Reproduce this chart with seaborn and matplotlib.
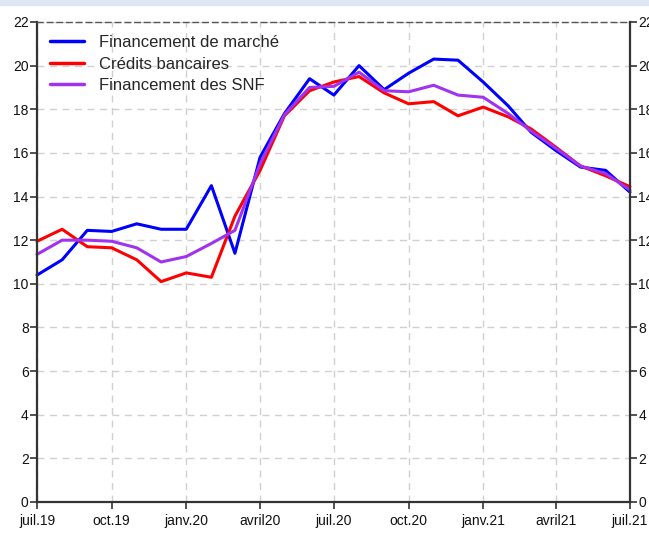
import numpy as np
import pandas as pd
import matplotlib
matplotlib.use('Agg')
import matplotlib.pyplot as plt
import seaborn as sns

# monthly growth rates, juil.19 -> juil.21
months = pd.date_range('2019-07-01', periods=25, freq='MS')

financement_marche = [10.4, 11.1, 12.45, 12.4, 12.75, 12.5, 12.5, 14.5, 11.4, 15.8,
                      17.8, 19.4, 18.65, 20.0, 18.9, 19.65, 20.3, 20.25, 19.25, 18.15,
                      16.95, 16.1, 15.35, 15.2, 14.2]
credits_bancaires = [11.95, 12.5, 11.7, 11.65, 11.1, 10.1, 10.5, 10.3, 13.1, 15.2,
                     17.7, 18.85, 19.25, 19.5, 18.75, 18.25, 18.35, 17.7, 18.1, 17.65,
                     17.1, 16.25, 15.4, 14.95, 14.45]
financement_snf = [11.35, 12.0, 12.0, 11.95, 11.65, 11.0, 11.25, 11.85, 12.45, 15.5,
                   17.75, 19.0, 19.05, 19.7, 18.85, 18.8, 19.1, 18.65, 18.55, 17.8,
                   17.0, 16.2, 15.4, 15.05, 14.3]

series_names = ['Financement de marché', 'Crédits bancaires', 'Financement des SNF']
series_colors = ['#0000ff', '#ff0000', '#a033f0']

tick_months = pd.date_range('2019-07-01', periods=9, freq='3MS')
tick_labels = ['juil.19', 'oct.19', 'janv.20', 'avril20', 'juil.20',
               'oct.20', 'janv.21', 'avril21', 'juil.21']

df = pd.DataFrame({
    'date': np.tile(months, 3),
    'value': financement_marche + credits_bancaires + financement_snf,
    'serie': np.repeat(series_names, len(months)),
})

sns.set_style('white')
plt.rcParams['font.family'] = ['Liberation Sans', 'DejaVu Sans']

fig = plt.figure(figsize=(6.49, 5.35), dpi=100)
# light blue band along the top edge
fig.patches.append(plt.Rectangle((0, 0.99), 1, 0.01, transform=fig.transFigure,
                                 color='#dde6f2', zorder=0))
ax = fig.add_axes([0.057, 0.0617, 0.9137, 0.8972])

sns.lineplot(data=df, x='date', y='value', hue='serie', hue_order=series_names,
             palette=series_colors, linewidth=2.2, ax=ax, clip_on=False)

ax.set_xlim(months[0], months[-1])
ax.set_ylim(0, 22)
ax.set_yticks(range(0, 23, 2))
ax.set_xticks(tick_months)
ax.set_xticklabels(tick_labels)
ax.set_xlabel('')
ax.set_ylabel('')

ax.grid(True, linestyle=(0, (5, 4)), color='#d0d0d0', linewidth=1.0)
ax.tick_params(axis='both', direction='out', length=5, width=1.2, color='#333333',
               labelsize=10, colors='#111111')
ax.tick_params(axis='y', right=True, labelright=True, left=True, pad=1)
ax.tick_params(axis='x', bottom=True, pad=4)

for side in ['left', 'right', 'bottom']:
    ax.spines[side].set_color('#333333')
    ax.spines[side].set_linewidth(1.6)
ax.spines['top'].set_color('#555555')
ax.spines['top'].set_linestyle((0, (4, 3)))
ax.spines['top'].set_linewidth(1.0)

leg = ax.legend(loc='upper left', bbox_to_anchor=(0.0, 1.0), frameon=False,
                fontsize=12, handlelength=2.0, handletextpad=0.9,
                labelspacing=0.38, borderaxespad=0.4)
for line in leg.get_lines():
    line.set_linewidth(2.5)

fig.savefig('out.png', dpi=100)
plt.close(fig)
